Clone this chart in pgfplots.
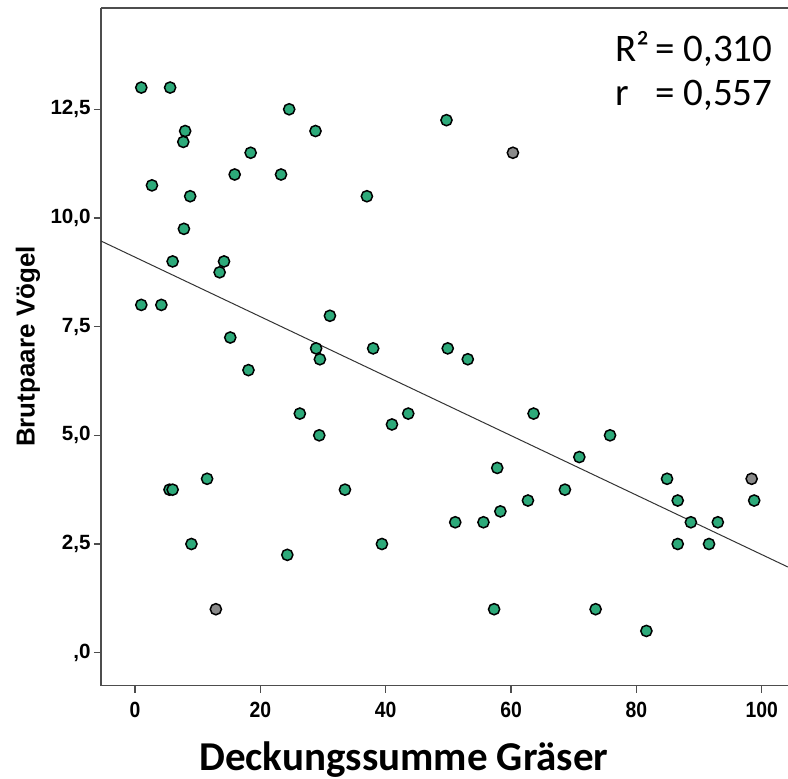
\documentclass[border=0pt]{standalone}
\usepackage{fontspec}
\setmainfont{Liberation Sans}
\newfontfamily\calibri{Carlito}
\usepackage{pgfplots}
\pgfplotsset{compat=1.18}
\definecolor{dots}{HTML}{2DAA7A}
\definecolor{dotgray}{HTML}{8A8A8A}
\definecolor{frame}{HTML}{4D4D4D}

\begin{document}
\begin{tikzpicture}
\useasboundingbox (-50.5pt,-46.25pt) rectangle (343.5pt,342.75pt);
\begin{axis}[
  at={(0pt,0pt)}, anchor=south west,
  scale only axis, width=343.5pt, height=338.75pt,
  xmin=-5.43, xmax=104.2, ymin=-0.755, ymax=14.83,
  axis x line*=box, axis y line*=left,
  axis line style={frame, line width=0.7pt},
  tick align=outside, tick pos=left, major tick length=3.5pt,
  tick style={frame, line width=0.6pt},
  xtick={0,20,40,60,80,100},
  xticklabels={{\textbf{0}},{\textbf{20}},{\textbf{40}},{\textbf{60}},{\textbf{80}},{\textbf{100}}},
  ytick={0,2.5,5,7.5,10,12.5},
  yticklabels={{\textbf{,0}},{\textbf{2,5}},{\textbf{5,0}},{\textbf{7,5}},{\textbf{10,0}},{\textbf{12,5}}},
  yticklabel style={font=\fontsize{10.3}{12}\selectfont, text=black, inner sep=1.5pt},
  xticklabel style={font=\fontsize{11}{13}\selectfont, text=black, xscale=0.88, yshift=-1.5pt},
]
% regression line
\addplot[black!80, line width=0.5pt] coordinates {(-5.43,9.47) (104.2,1.97)};
% green points
\addplot[only marks, mark=*, mark size=2.8pt,
  mark options={fill=dots, draw=black, line width=0.75pt}] coordinates {
(1,13) (5.6,13) (24.6,12.5) (8,12) (28.8,12) (7.7,11.75) (18.45,11.5)
(15.9,11) (23.3,11) (2.7,10.75) (8.8,10.5) (7.8,9.75) (6,9) (14.2,9)
(13.5,8.75) (1,8) (4.2,8) (31.1,7.75) (49.7,12.25) (37,10.5) (15.2,7.25)
(28.9,7) (29.5,6.75) (18.1,6.5) (26.3,5.5) (29.4,5) (11.5,4) (5.5,3.75)
(6,3.75) (33.5,3.75) (9,2.5) (24.3,2.25) (38,7) (49.9,7) (53.1,6.75)
(43.6,5.5) (41,5.25) (63.6,5.5) (70.9,4.5) (57.8,4.25) (68.6,3.75)
(62.7,3.5) (58.3,3.25) (51.1,3) (55.6,3) (39.4,2.5) (57.3,1) (75.8,5)
(84.9,4) (86.6,3.5) (98.8,3.5) (88.7,3) (93,3) (86.6,2.5) (91.6,2.5)
(73.5,1) (81.6,0.5)
};
% gray points
\addplot[only marks, mark=*, mark size=2.8pt,
  mark options={fill=dotgray, draw=black, line width=0.75pt}] coordinates {
(12.9,1) (60.3,11.5) (98.4,4)
};
\end{axis}
\node[anchor=base, inner sep=0pt, font=\calibri\bfseries\fontsize{20.5}{24}\selectfont]
  at (151.5pt,-42.5pt) {Deckungssumme Gräser};
\node[rotate=90, inner sep=0pt, font=\bfseries\fontsize{13}{15}\selectfont]
  at (-36.5pt,169.5pt) {Brutpaare Vögel};
\node[anchor=base west, inner sep=0pt, font=\calibri\fontsize{19.5}{22}\selectfont]
  at (257pt,311.9pt) {R²};
\node[anchor=base west, inner sep=0pt, font=\calibri\fontsize{19.5}{22}\selectfont]
  at (277pt,311.9pt) {= 0,310};
\node[anchor=base west, inner sep=0pt, font=\calibri\fontsize{19.5}{22}\selectfont]
  at (257pt,289.75pt) {r};
\node[anchor=base west, inner sep=0pt, font=\calibri\fontsize{19.5}{22}\selectfont]
  at (277pt,289.75pt) {= 0,557};
\end{tikzpicture}
\end{document}
